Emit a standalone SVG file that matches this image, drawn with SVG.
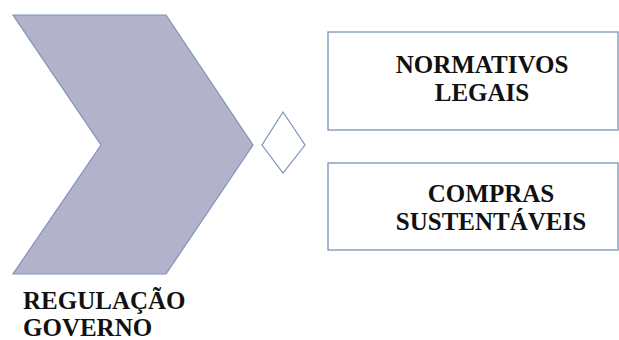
<svg xmlns="http://www.w3.org/2000/svg" width="619" height="340" viewBox="0 0 619 340">
<style>
.box{fill:#fff;stroke:#7a93bb;stroke-width:1.3}
</style>
<rect width="619" height="340" fill="#fff"/>
<g font-family="'Liberation Serif', 'Times New Roman', serif" font-weight="bold" font-size="25" fill="#111">
<g id="chevron">
<polygon points="13,15 166,15 253,145 166,274 13,274 101,145" fill="#b3b2cb" stroke="#7a93bb" stroke-width="1.2"/>
<text x="23" y="309">REGULAÇÃO</text>
<text x="23" y="336">GOVERNO</text>
</g>
<g id="diamond">
<polygon points="283,112 305,145 283,173 262,145" fill="#fff" stroke="#7a93bb" stroke-width="1.2"/>
</g>
<g id="normativos">
<rect class="box" x="328" y="32" width="290" height="98"/>
<text x="482" y="73" text-anchor="middle">NORMATIVOS</text>
<text x="482" y="101" text-anchor="middle">LEGAIS</text>
</g>
<g id="compras">
<rect class="box" x="328" y="163" width="290" height="87"/>
<text x="491" y="202" text-anchor="middle">COMPRAS</text>
<text x="491" y="230" text-anchor="middle">SUSTENTÁVEIS</text>
</g>
</g>
<g id="connectors"></g>
</svg>
